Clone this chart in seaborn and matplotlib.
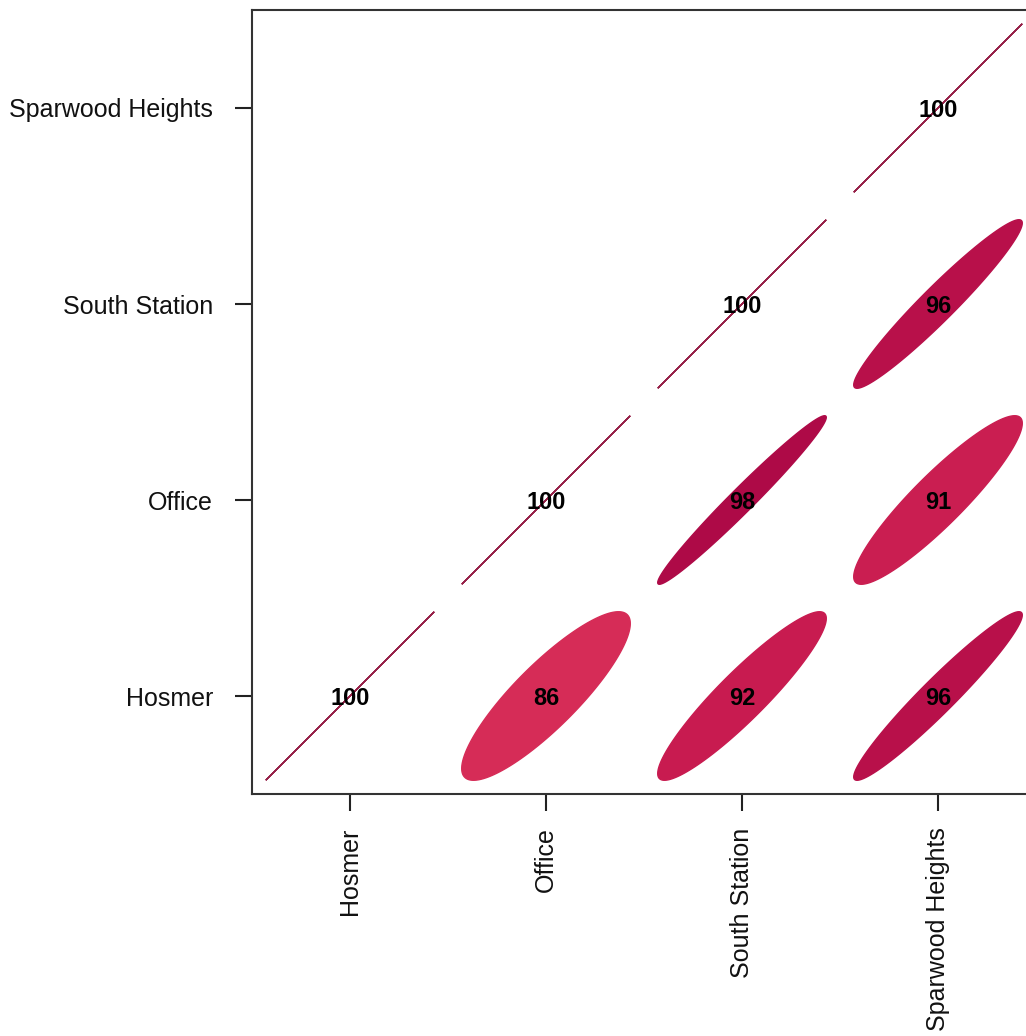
import numpy as np
import pandas as pd
import seaborn as sns
import matplotlib
matplotlib.use("Agg")
import matplotlib.pyplot as plt
from matplotlib.patches import Polygon
from matplotlib.colors import LinearSegmentedColormap, Normalize

# Stations and pairwise correlations (upper triangle incl. diagonal)
stations = ["Hosmer", "Office", "South Station", "Sparwood Heights"]
row_station = ["Hosmer", "Hosmer", "Hosmer", "Hosmer",
               "Office", "Office", "Office",
               "South Station", "South Station",
               "Sparwood Heights"]
col_station = ["Hosmer", "Office", "South Station", "Sparwood Heights",
               "Office", "South Station", "Sparwood Heights",
               "South Station", "Sparwood Heights",
               "Sparwood Heights"]
corr_values = [1.00, 0.86, 0.92, 0.96,
               1.00, 0.98, 0.91,
               1.00, 0.96,
               1.00]

df = pd.DataFrame({"row": row_station, "col": col_station, "r": corr_values})

sns.set_theme(style="white")
plt.rcParams["font.family"] = ["Liberation Sans", "DejaVu Sans"]

cmap = LinearSegmentedColormap.from_list(
    "corr", [(0.0, "#D62C57"), (0.43, "#C81B50"), (0.71, "#B8104A"),
             (0.857, "#AE0A47"), (1.0, "#962048")])
norm = Normalize(vmin=0.86, vmax=1.0)

fig = plt.figure(figsize=(10.26, 10.36), dpi=100)
ax = fig.add_axes([252 / 1026, 242 / 1036, 784 / 1026, 784 / 1036])

pos = {s: i + 1 for i, s in enumerate(stations)}
t = np.linspace(0, 2 * np.pi, 200)
scale = 0.43

for _, rec in df.iterrows():
    cx, cy = pos[rec["col"]], pos[rec["row"]]
    d = np.arccos(np.clip(rec["r"], -1, 1))
    ex = cx + scale * np.cos(t + d / 2)
    ey = cy + scale * np.cos(t - d / 2)
    color = cmap(norm(rec["r"]))
    ax.add_patch(Polygon(np.column_stack([ex, ey]), closed=True,
                         facecolor=color, edgecolor=color, linewidth=1.0))
    ax.text(cx, cy, f"{round(rec['r'] * 100):d}", ha="center", va="center_baseline",
            fontsize=17, fontweight="bold", color="black")

ax.set_xlim(0.5, 4.5)
ax.set_ylim(0.5, 4.5)
ax.set_xticks(range(1, 5))
ax.set_yticks(range(1, 5))
ax.set_xticklabels(stations, rotation=90, va="top", ha="center")
ax.set_yticklabels(stations)
ax.tick_params(axis="both", which="both", length=12, width=1.5, color="#222222",
               labelsize=18, labelcolor="#111111", left=True, bottom=True)
ax.tick_params(axis="y", pad=16)
ax.tick_params(axis="x", pad=12)
for sp in ax.spines.values():
    sp.set_visible(True)
    sp.set_color("#333333")
    sp.set_linewidth(1.5)
ax.grid(False)

fig.savefig("out.png", dpi=100)
